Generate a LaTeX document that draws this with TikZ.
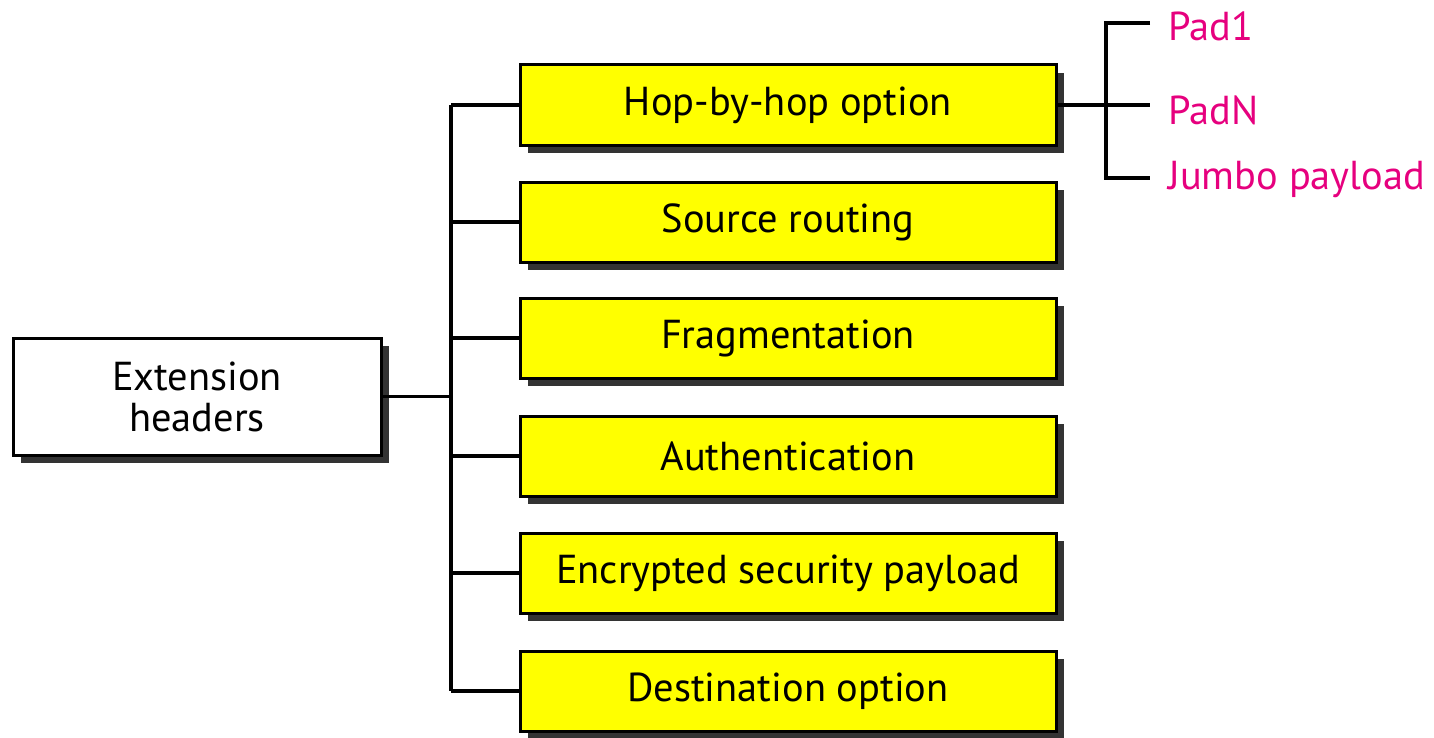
\documentclass[tikz,border=0pt]{standalone}
\usepackage{fontspec}
\setmainfont{PT Sans}
\usetikzlibrary{shadows}
\definecolor{padpink}{RGB}{230,0,126}
\definecolor{boxyellow}{RGB}{255,255,0}
\tikzset{
  px/.style={x=0.5pt,y=-0.5pt},
  hdrbox/.style={draw=black,line width=1.5pt,fill=boxyellow,minimum width=268pt,minimum height=40pt,
    inner sep=0pt,font=\fontsize{20.2}{21}\selectfont,
    drop shadow={shadow xshift=4pt,shadow yshift=-4pt,fill=black!80,opacity=1}},
  rootbox/.style={draw=black,line width=1.5pt,fill=white,minimum width=184pt,minimum height=58.5pt,
    inner sep=0pt,align=center,font=\fontsize{20.2}{20.5}\selectfont,
    drop shadow={shadow xshift=4pt,shadow yshift=-4pt,fill=black!80,opacity=1}},
  optlabel/.style={text=padpink,anchor=west,inner sep=0pt,font=\fontsize{20.2}{21}\selectfont},
  link/.style={draw=black,line width=1.8pt}
}
\begin{document}
\begin{tikzpicture}[px]
\useasboundingbox (0,0) rectangle (1434,738);
\node[rootbox] (root) at (197,396.5) {Extension\\headers};
\node[hdrbox] (h1) at (788,105) {Hop-by-hop option};
\node[hdrbox] (h2) at (788,222) {Source routing};
\node[hdrbox] (h3) at (788,338) {Fragmentation};
\node[hdrbox] (h4) at (788,456) {Authentication};
\node[hdrbox] (h5) at (788,573) {Encrypted security payload};
\node[hdrbox] (h6) at (788,691) {Destination option};
\coordinate (tk) at (451,396.5);
\coordinate (t1) at (451,105);
\coordinate (t6) at (451,691);
\draw[link] (root.east) -- (tk);
\draw[link] (t1) -- (t6);
\foreach \i in {1,...,6}{\draw[link] (h\i.west -| tk) -- (h\i.west);}
\node[optlabel] (p1) at (1168,26) {Pad1};
\node[optlabel] (p2) at (1168,110) {PadN};
\node[optlabel] (p3) at (1168,179) {Jumbo payload};
\coordinate (b) at (1106,105);
\coordinate (b1) at (1106,23);
\coordinate (b3) at (1106,178);
\coordinate (e1) at (1150,23);
\coordinate (e2) at (1150,105);
\coordinate (e3) at (1150,178);
\draw[link] (h1.east) -- (b);
\draw[link] (e1) -- (b1) -- (b3) -- (e3);
\draw[link] (b) -- (e2);
\end{tikzpicture}
\end{document}
